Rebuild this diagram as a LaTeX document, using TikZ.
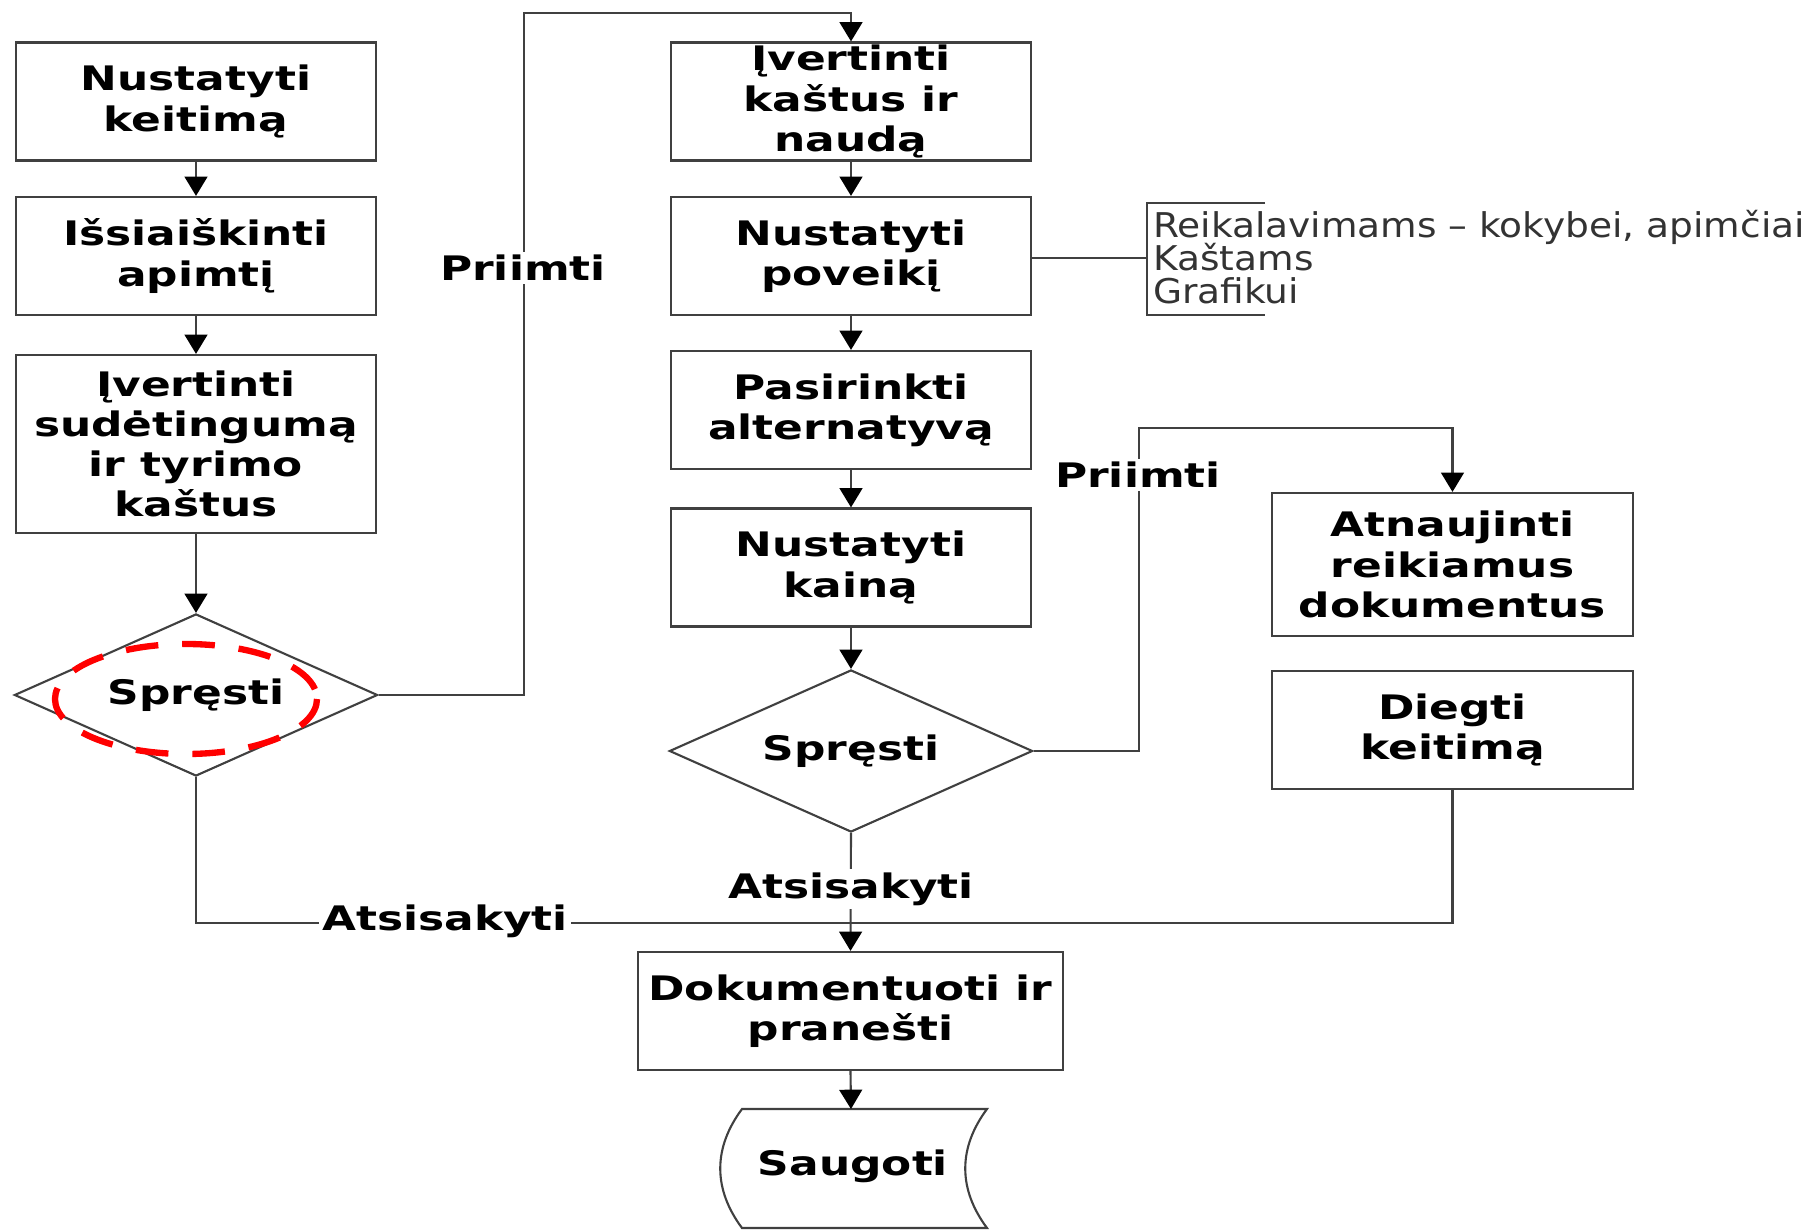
\documentclass[tikz,border=0pt]{standalone}
\usepackage{fontspec}
\setmainfont{DejaVu Sans}
\newfontfamily\widefamily[FakeStretch=1.3]{DejaVu Sans}
\newfontfamily\notefamily[FakeStretch=1.1]{DejaVu Sans}
\usetikzlibrary{shapes.geometric, arrows.meta}
\newcommand\boxfont{\widefamily\fontsize{9.6}{11.4}\selectfont\bfseries\lineskiplimit=-20pt\relax}
\newcommand\notefont{\notefamily\fontsize{9.7}{9.4}\selectfont\lineskiplimit=-20pt\relax}
\tikzset{>={Triangle[length=5.5pt,width=6.5pt,black]}}
\tikzset{
  flow/.style={draw=black!75, line width=0.6pt},
  box/.style={flow, minimum width=3.6cm, minimum height=1.18cm, align=center,
    inner sep=0pt, font=\boxfont},
  choice/.style={flow, diamond, aspect=2.23, minimum width=3.63cm, minimum height=1.62cm,
    inner sep=0pt, font=\boxfont},
  answer/.style={fill=white, inner sep=1pt, font=\boxfont}
}

\begin{document}
\begin{tikzpicture}[x=0.01cm, y=-0.01cm]
\fill[white] (0,0) rectangle (1820,1230);

\node[box] (keitimas) at (196,101.5) {Nustatyti\\keitimą};
\node[box] (apimtis) at (196,256) {Išsiaiškinti\\apimtį};
\node[box, minimum height=1.78cm] (tyrimas) at (196,444) {Įvertinti\\sudėtingumą\\ir tyrimo\\kaštus};
\node[choice] (spresti1) at (196,695) {Spręsti};

\node[box] (nauda) at (851,101.5) {Įvertinti\\kaštus ir\\naudą};
\node[box] (poveikis) at (851,256) {Nustatyti\\poveikį};
\node[box] (alternatyva) at (851,410) {Pasirinkti\\alternatyvą};
\node[box] (kaina) at (851,567.5) {Nustatyti\\kainą};
\node[choice] (spresti2) at (851,751) {Spręsti};

\node[box, minimum height=1.43cm] (dokumentai) at (1452.5,564.5) {Atnaujinti\\reikiamus\\dokumentus};
\node[box] (diegti) at (1452.5,730) {Diegti\\keitimą};

\node[box, minimum width=4.25cm] (pranesti) at (850.5,1011) {Dokumentuoti ir\\pranešti};
\draw[flow] (742,1109) -- (987,1109) .. controls (958,1148) and (958,1189) .. (987,1228)
  -- (742,1228) .. controls (713,1189) and (713,1148) .. (742,1109) -- cycle;
\node[font=\boxfont] (saugoti) at (853,1166) {Saugoti};
\coordinate (saugotitop) at (851,1109);

\draw[flow,->] (keitimas) -- (apimtis);
\draw[flow,->] (apimtis) -- (tyrimas);
\draw[flow,->] (tyrimas) -- (spresti1);
\coordinate (virsus) at (524,13);
\draw[flow,->] (spresti1.east) -| (virsus) -| (nauda.north);

\draw[flow,->] (nauda) -- (poveikis);
\draw[flow,->] (poveikis) -- (alternatyva);
\draw[flow,->] (alternatyva) -- (kaina);
\draw[flow,->] (kaina) -- (spresti2);
\coordinate (posukis) at (1139,428);
\draw[flow,->] (spresti2.east) -| (posukis) -| (dokumentai.north);

\coordinate (sandura) at (851,923);
\draw[flow] (spresti1.south) |- (sandura);
\draw[flow] (diegti.south) |- (sandura);
\draw[flow,->] (spresti2.south) -- (pranesti.north);
\draw[flow,->] (pranesti.south) -- (saugotitop);

\coordinate (skliaustas) at (1147,258);
\draw[flow] (poveikis.east |- skliaustas) -- (skliaustas);
\draw[flow] (1265,203) -- (1147,203) -- (1147,315) -- (1265,315);
\node[anchor=west, align=left, inner sep=1pt, text=black!80, font=\notefont]
  (poveikiai) at (1149,257) {Reikalavimams – kokybei, apimčiai\\Kaštams\\Grafikui};

\draw[red, line width=1.8pt, dash pattern=on 9.3pt off 6.8pt] (186,699) ellipse [x radius=131, y radius=55];

\node[answer] (priimti1) at (523,268) {Priimti};
\node[answer] (priimti2) at (1138,475) {Priimti};
\node[answer] (atsisakyti1) at (445,921) {Atsisakyti};
\node[answer] (atsisakyti2) at (851,889) {Atsisakyti};
\end{tikzpicture}
\end{document}
